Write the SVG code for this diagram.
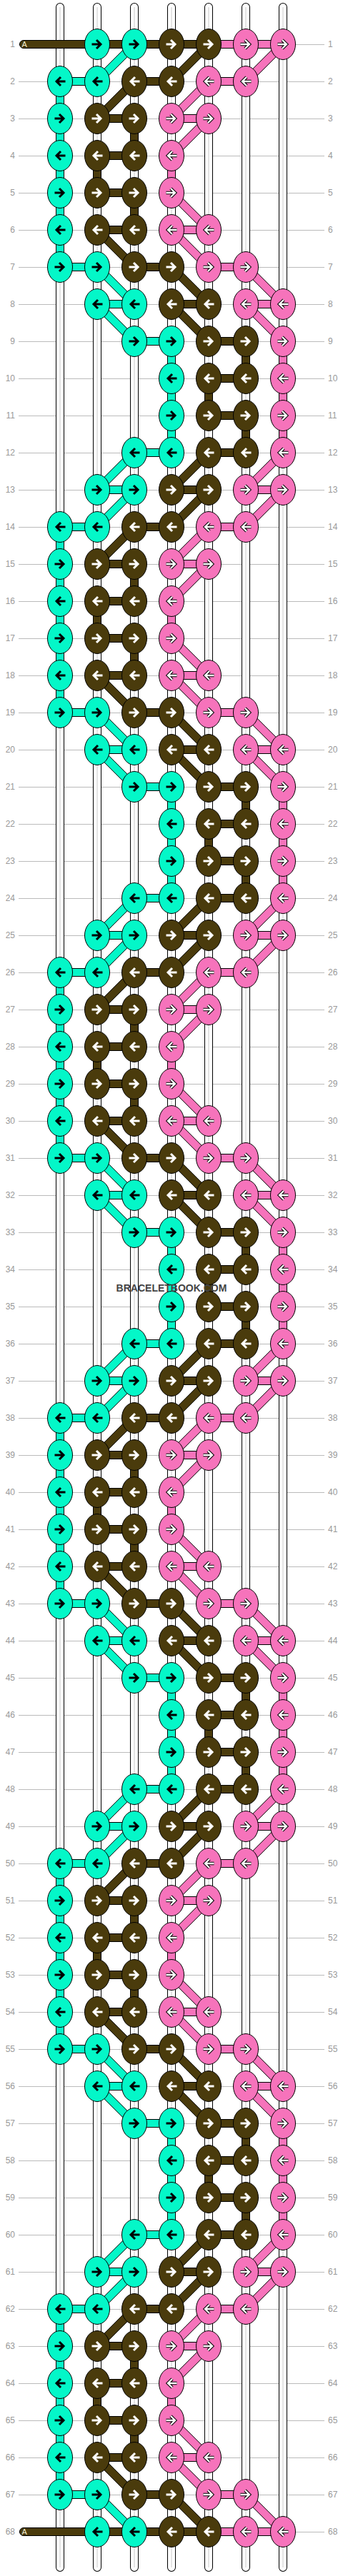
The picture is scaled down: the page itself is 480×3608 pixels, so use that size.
<svg xmlns="http://www.w3.org/2000/svg" xmlns:xlink="http://www.w3.org/1999/xlink" width="480" height="3608" viewBox="0 0 480 3608">
<style>
.t{fill:#04F7C8;stroke:#000;stroke-width:1}
.b{fill:#4A3B0C;stroke:#000;stroke-width:1}
.p{fill:#F673BB;stroke:#000;stroke-width:1}
.lb{font-family:"Liberation Sans",Arial,sans-serif;font-size:12px;fill:#999}
</style>
<defs>
<path id="aR" fill="none" d="M-7.5 0H5M-1-6 5 0-1 6"/>
<path id="aL" fill="none" d="M7.5 0H-5M1-6-5 0 1 6"/>
<g id="tR"><ellipse class="t" rx="17.5" ry="21.5"/><use href="#aR" stroke="#000" stroke-width="3"/></g>
<g id="tL"><ellipse class="t" rx="17.5" ry="21.5"/><use href="#aL" stroke="#000" stroke-width="3"/></g>
<g id="bR"><ellipse class="b" rx="17.5" ry="21.5"/><use href="#aR" stroke="#fff" stroke-width="3"/></g>
<g id="bL"><ellipse class="b" rx="17.5" ry="21.5"/><use href="#aL" stroke="#fff" stroke-width="3"/></g>
<g id="pR"><ellipse class="p" rx="17.5" ry="21.5"/><use href="#aR" stroke="#000" stroke-width="4.4"/><use href="#aR" stroke="#fff" stroke-width="2.4"/></g>
<g id="pL"><ellipse class="p" rx="17.5" ry="21.5"/><use href="#aL" stroke="#000" stroke-width="4.4"/><use href="#aL" stroke="#fff" stroke-width="2.4"/></g>
<g id="R1"><path class="b" d="M292-5.5H33a5.5 5.5 0 0 0 0 11H292z"/><path class="p" d="M292-5.5h104v11h-104z"/><path class="t" d="M184.11-3.89l7.78 7.78-52 52-7.78-7.78z"/><path class="b" d="M288.11-3.89l7.78 7.78-52 52-7.78-7.78z"/><path class="p" d="M392.11-3.89l7.78 7.78-52 52-7.78-7.78z"/></g>
<g id="R2"><path class="t" d="M84-5.5h52v11h-52z"/><path class="t" d="M78.5 0h11v52h-11z"/><path class="b" d="M188-5.5h52v11h-52z"/><path class="b" d="M184.11-3.89l7.78 7.78-52 52-7.78-7.78z"/><path class="p" d="M292-5.5h52v11h-52z"/><path class="p" d="M288.11-3.89l7.78 7.78-52 52-7.78-7.78z"/></g>
<g id="R3"><path class="t" d="M78.5 0h11v52h-11z"/><path class="b" d="M136-5.5h52v11h-52z"/><path class="b" d="M182.5 0h11v52h-11z"/><path class="p" d="M240-5.5h52v11h-52z"/><path class="p" d="M288.11-3.89l7.78 7.78-52 52-7.78-7.78z"/></g>
<g id="R4"><path class="t" d="M78.5 0h11v52h-11z"/><path class="b" d="M136-5.5h52v11h-52z"/><path class="b" d="M130.5 0h11v52h-11z"/><path class="p" d="M234.5 0h11v52h-11z"/></g>
<g id="R5"><path class="t" d="M78.5 0h11v52h-11z"/><path class="b" d="M136-5.5h52v11h-52z"/><path class="b" d="M182.5 0h11v52h-11z"/><path class="p" d="M236.11 3.89l7.78-7.78 52 52-7.78 7.78z"/></g>
<g id="R6"><path class="t" d="M78.5 0h11v52h-11z"/><path class="b" d="M136-5.5h52v11h-52z"/><path class="b" d="M132.11 3.89l7.78-7.78 52 52-7.78 7.78z"/><path class="p" d="M240-5.5h52v11h-52z"/><path class="p" d="M236.11 3.89l7.78-7.78 52 52-7.78 7.78z"/></g>
<g id="R7"><path class="t" d="M84-5.5h52v11h-52z"/><path class="t" d="M132.11 3.89l7.78-7.78 52 52-7.78 7.78z"/><path class="b" d="M188-5.5h52v11h-52z"/><path class="b" d="M236.11 3.89l7.78-7.78 52 52-7.78 7.78z"/><path class="p" d="M292-5.5h52v11h-52z"/><path class="p" d="M340.11 3.89l7.78-7.78 52 52-7.78 7.78z"/></g>
<g id="R8"><path class="t" d="M136-5.5h52v11h-52z"/><path class="t" d="M132.11 3.89l7.78-7.78 52 52-7.78 7.78z"/><path class="b" d="M240-5.5h52v11h-52z"/><path class="b" d="M236.11 3.89l7.78-7.78 52 52-7.78 7.78z"/><path class="p" d="M344-5.5h52v11h-52z"/><path class="p" d="M340.11 3.89l7.78-7.78 52 52-7.78 7.78z"/></g>
<g id="R9"><path class="t" d="M188-5.5h52v11h-52z"/><path class="t" d="M234.5 0h11v52h-11z"/><path class="b" d="M292-5.5h52v11h-52z"/><path class="b" d="M338.5 0h11v52h-11z"/><path class="p" d="M390.5 0h11v52h-11z"/></g>
<g id="R10"><path class="t" d="M234.5 0h11v52h-11z"/><path class="b" d="M292-5.5h52v11h-52z"/><path class="b" d="M286.5 0h11v52h-11z"/><path class="p" d="M390.5 0h11v52h-11z"/></g>
<g id="R11"><path class="t" d="M234.5 0h11v52h-11z"/><path class="b" d="M292-5.5h52v11h-52z"/><path class="b" d="M338.5 0h11v52h-11z"/><path class="p" d="M390.5 0h11v52h-11z"/></g>
<g id="R12"><path class="t" d="M188-5.5h52v11h-52z"/><path class="t" d="M184.11-3.89l7.78 7.78-52 52-7.78-7.78z"/><path class="b" d="M292-5.5h52v11h-52z"/><path class="b" d="M288.11-3.89l7.78 7.78-52 52-7.78-7.78z"/><path class="p" d="M392.11-3.89l7.78 7.78-52 52-7.78-7.78z"/></g>
<g id="R13"><path class="t" d="M136-5.5h52v11h-52z"/><path class="t" d="M184.11-3.89l7.78 7.78-52 52-7.78-7.78z"/><path class="b" d="M240-5.5h52v11h-52z"/><path class="b" d="M288.11-3.89l7.78 7.78-52 52-7.78-7.78z"/><path class="p" d="M344-5.5h52v11h-52z"/><path class="p" d="M392.11-3.89l7.78 7.78-52 52-7.78-7.78z"/></g>
<g id="R68"><path class="b" d="M292-5.5H33a5.5 5.5 0 0 0 0 11H292z"/><path class="p" d="M292-5.5h104v11h-104z"/></g>
</defs>
<rect width="480" height="3608" fill="#fff"/>
<g id="grid" stroke="#bbb" stroke-width="1" fill="none" shape-rendering="crispEdges">
<path d="M26 62H454M26 114H454M26 166H454M26 218H454M26 270H454M26 322H454M26 374H454M26 426H454M26 478H454M26 530H454M26 582H454M26 634H454M26 686H454M26 738H454M26 790H454M26 842H454M26 894H454M26 946H454M26 998H454M26 1050H454M26 1102H454M26 1154H454M26 1206H454M26 1258H454M26 1310H454M26 1362H454M26 1414H454M26 1466H454M26 1518H454M26 1570H454M26 1622H454M26 1674H454M26 1726H454M26 1778H454M26 1830H454M26 1882H454M26 1934H454M26 1986H454M26 2038H454M26 2090H454M26 2142H454M26 2194H454M26 2246H454M26 2298H454M26 2350H454M26 2402H454M26 2454H454M26 2506H454M26 2558H454M26 2610H454M26 2662H454M26 2714H454M26 2766H454M26 2818H454M26 2870H454M26 2922H454M26 2974H454M26 3026H454M26 3078H454M26 3130H454M26 3182H454M26 3234H454M26 3286H454M26 3338H454M26 3390H454M26 3442H454M26 3494H454M26 3546H454"/>
</g>
<g id="strings" fill="none">
<path d="M84 10V3596M136 10V3596M188 10V3596M240 10V3596M292 10V3596M344 10V3596M396 10V3596" stroke="#000" stroke-width="12" stroke-linecap="round"/>
<path d="M84 10V3596M136 10V3596M188 10V3596M240 10V3596M292 10V3596M344 10V3596M396 10V3596" stroke="#fff" stroke-width="10" stroke-linecap="round"/>
<path d="M84 10V3596M136 10V3596M188 10V3596M240 10V3596M292 10V3596M344 10V3596M396 10V3596" stroke="#c8c8c8" stroke-width="1"/>
</g>
<g id="connectors">
<use href="#R1" y="62"/>
<use href="#R2" y="114"/><use href="#R3" y="166"/><use href="#R4" y="218"/><use href="#R5" y="270"/><use href="#R6" y="322"/><use href="#R7" y="374"/><use href="#R8" y="426"/><use href="#R9" y="478"/><use href="#R10" y="530"/><use href="#R11" y="582"/><use href="#R12" y="634"/><use href="#R13" y="686"/>
<use href="#R2" y="738"/><use href="#R3" y="790"/><use href="#R4" y="842"/><use href="#R5" y="894"/><use href="#R6" y="946"/><use href="#R7" y="998"/><use href="#R8" y="1050"/><use href="#R9" y="1102"/><use href="#R10" y="1154"/><use href="#R11" y="1206"/><use href="#R12" y="1258"/><use href="#R13" y="1310"/>
<use href="#R2" y="1362"/><use href="#R3" y="1414"/><use href="#R4" y="1466"/><use href="#R5" y="1518"/><use href="#R6" y="1570"/><use href="#R7" y="1622"/><use href="#R8" y="1674"/><use href="#R9" y="1726"/><use href="#R10" y="1778"/><use href="#R11" y="1830"/><use href="#R12" y="1882"/><use href="#R13" y="1934"/>
<use href="#R2" y="1986"/><use href="#R3" y="2038"/><use href="#R4" y="2090"/><use href="#R5" y="2142"/><use href="#R6" y="2194"/><use href="#R7" y="2246"/><use href="#R8" y="2298"/><use href="#R9" y="2350"/><use href="#R10" y="2402"/><use href="#R11" y="2454"/><use href="#R12" y="2506"/><use href="#R13" y="2558"/>
<use href="#R2" y="2610"/><use href="#R3" y="2662"/><use href="#R4" y="2714"/><use href="#R5" y="2766"/><use href="#R6" y="2818"/><use href="#R7" y="2870"/><use href="#R8" y="2922"/><use href="#R9" y="2974"/><use href="#R10" y="3026"/><use href="#R11" y="3078"/><use href="#R12" y="3130"/><use href="#R13" y="3182"/>
<use href="#R2" y="3234"/><use href="#R3" y="3286"/><use href="#R4" y="3338"/><use href="#R5" y="3390"/><use href="#R6" y="3442"/><use href="#R7" y="3494"/>
<use href="#R68" y="3546"/>
</g>
<g id="knots">
<g id="row1" transform="translate(0 62)"><use id="n1-2" href="#tR" x="136"/><use id="n1-3" href="#tR" x="188"/><use id="n1-4" href="#bR" x="240"/><use id="n1-5" href="#bR" x="292"/><use id="n1-6" href="#pR" x="344"/><use id="n1-7" href="#pR" x="396"/></g>
<g id="row2" transform="translate(0 114)"><use id="n2-1" href="#tL" x="84"/><use id="n2-2" href="#tL" x="136"/><use id="n2-3" href="#bL" x="188"/><use id="n2-4" href="#bL" x="240"/><use id="n2-5" href="#pL" x="292"/><use id="n2-6" href="#pL" x="344"/></g>
<g id="row3" transform="translate(0 166)"><use id="n3-1" href="#tR" x="84"/><use id="n3-2" href="#bR" x="136"/><use id="n3-3" href="#bR" x="188"/><use id="n3-4" href="#pR" x="240"/><use id="n3-5" href="#pR" x="292"/></g>
<g id="row4" transform="translate(0 218)"><use id="n4-1" href="#tL" x="84"/><use id="n4-2" href="#bL" x="136"/><use id="n4-3" href="#bL" x="188"/><use id="n4-4" href="#pL" x="240"/></g>
<g id="row5" transform="translate(0 270)"><use id="n5-1" href="#tR" x="84"/><use id="n5-2" href="#bR" x="136"/><use id="n5-3" href="#bR" x="188"/><use id="n5-4" href="#pR" x="240"/></g>
<g id="row6" transform="translate(0 322)"><use id="n6-1" href="#tL" x="84"/><use id="n6-2" href="#bL" x="136"/><use id="n6-3" href="#bL" x="188"/><use id="n6-4" href="#pL" x="240"/><use id="n6-5" href="#pL" x="292"/></g>
<g id="row7" transform="translate(0 374)"><use id="n7-1" href="#tR" x="84"/><use id="n7-2" href="#tR" x="136"/><use id="n7-3" href="#bR" x="188"/><use id="n7-4" href="#bR" x="240"/><use id="n7-5" href="#pR" x="292"/><use id="n7-6" href="#pR" x="344"/></g>
<g id="row8" transform="translate(0 426)"><use id="n8-2" href="#tL" x="136"/><use id="n8-3" href="#tL" x="188"/><use id="n8-4" href="#bL" x="240"/><use id="n8-5" href="#bL" x="292"/><use id="n8-6" href="#pL" x="344"/><use id="n8-7" href="#pL" x="396"/></g>
<g id="row9" transform="translate(0 478)"><use id="n9-3" href="#tR" x="188"/><use id="n9-4" href="#tR" x="240"/><use id="n9-5" href="#bR" x="292"/><use id="n9-6" href="#bR" x="344"/><use id="n9-7" href="#pR" x="396"/></g>
<g id="row10" transform="translate(0 530)"><use id="n10-4" href="#tL" x="240"/><use id="n10-5" href="#bL" x="292"/><use id="n10-6" href="#bL" x="344"/><use id="n10-7" href="#pL" x="396"/></g>
<g id="row11" transform="translate(0 582)"><use id="n11-4" href="#tR" x="240"/><use id="n11-5" href="#bR" x="292"/><use id="n11-6" href="#bR" x="344"/><use id="n11-7" href="#pR" x="396"/></g>
<g id="row12" transform="translate(0 634)"><use id="n12-3" href="#tL" x="188"/><use id="n12-4" href="#tL" x="240"/><use id="n12-5" href="#bL" x="292"/><use id="n12-6" href="#bL" x="344"/><use id="n12-7" href="#pL" x="396"/></g>
<g id="row13" transform="translate(0 686)"><use id="n13-2" href="#tR" x="136"/><use id="n13-3" href="#tR" x="188"/><use id="n13-4" href="#bR" x="240"/><use id="n13-5" href="#bR" x="292"/><use id="n13-6" href="#pR" x="344"/><use id="n13-7" href="#pR" x="396"/></g>
<g id="row14" transform="translate(0 738)"><use id="n14-1" href="#tL" x="84"/><use id="n14-2" href="#tL" x="136"/><use id="n14-3" href="#bL" x="188"/><use id="n14-4" href="#bL" x="240"/><use id="n14-5" href="#pL" x="292"/><use id="n14-6" href="#pL" x="344"/></g>
<g id="row15" transform="translate(0 790)"><use id="n15-1" href="#tR" x="84"/><use id="n15-2" href="#bR" x="136"/><use id="n15-3" href="#bR" x="188"/><use id="n15-4" href="#pR" x="240"/><use id="n15-5" href="#pR" x="292"/></g>
<g id="row16" transform="translate(0 842)"><use id="n16-1" href="#tL" x="84"/><use id="n16-2" href="#bL" x="136"/><use id="n16-3" href="#bL" x="188"/><use id="n16-4" href="#pL" x="240"/></g>
<g id="row17" transform="translate(0 894)"><use id="n17-1" href="#tR" x="84"/><use id="n17-2" href="#bR" x="136"/><use id="n17-3" href="#bR" x="188"/><use id="n17-4" href="#pR" x="240"/></g>
<g id="row18" transform="translate(0 946)"><use id="n18-1" href="#tL" x="84"/><use id="n18-2" href="#bL" x="136"/><use id="n18-3" href="#bL" x="188"/><use id="n18-4" href="#pL" x="240"/><use id="n18-5" href="#pL" x="292"/></g>
<g id="row19" transform="translate(0 998)"><use id="n19-1" href="#tR" x="84"/><use id="n19-2" href="#tR" x="136"/><use id="n19-3" href="#bR" x="188"/><use id="n19-4" href="#bR" x="240"/><use id="n19-5" href="#pR" x="292"/><use id="n19-6" href="#pR" x="344"/></g>
<g id="row20" transform="translate(0 1050)"><use id="n20-2" href="#tL" x="136"/><use id="n20-3" href="#tL" x="188"/><use id="n20-4" href="#bL" x="240"/><use id="n20-5" href="#bL" x="292"/><use id="n20-6" href="#pL" x="344"/><use id="n20-7" href="#pL" x="396"/></g>
<g id="row21" transform="translate(0 1102)"><use id="n21-3" href="#tR" x="188"/><use id="n21-4" href="#tR" x="240"/><use id="n21-5" href="#bR" x="292"/><use id="n21-6" href="#bR" x="344"/><use id="n21-7" href="#pR" x="396"/></g>
<g id="row22" transform="translate(0 1154)"><use id="n22-4" href="#tL" x="240"/><use id="n22-5" href="#bL" x="292"/><use id="n22-6" href="#bL" x="344"/><use id="n22-7" href="#pL" x="396"/></g>
<g id="row23" transform="translate(0 1206)"><use id="n23-4" href="#tR" x="240"/><use id="n23-5" href="#bR" x="292"/><use id="n23-6" href="#bR" x="344"/><use id="n23-7" href="#pR" x="396"/></g>
<g id="row24" transform="translate(0 1258)"><use id="n24-3" href="#tL" x="188"/><use id="n24-4" href="#tL" x="240"/><use id="n24-5" href="#bL" x="292"/><use id="n24-6" href="#bL" x="344"/><use id="n24-7" href="#pL" x="396"/></g>
<g id="row25" transform="translate(0 1310)"><use id="n25-2" href="#tR" x="136"/><use id="n25-3" href="#tR" x="188"/><use id="n25-4" href="#bR" x="240"/><use id="n25-5" href="#bR" x="292"/><use id="n25-6" href="#pR" x="344"/><use id="n25-7" href="#pR" x="396"/></g>
<g id="row26" transform="translate(0 1362)"><use id="n26-1" href="#tL" x="84"/><use id="n26-2" href="#tL" x="136"/><use id="n26-3" href="#bL" x="188"/><use id="n26-4" href="#bL" x="240"/><use id="n26-5" href="#pL" x="292"/><use id="n26-6" href="#pL" x="344"/></g>
<g id="row27" transform="translate(0 1414)"><use id="n27-1" href="#tR" x="84"/><use id="n27-2" href="#bR" x="136"/><use id="n27-3" href="#bR" x="188"/><use id="n27-4" href="#pR" x="240"/><use id="n27-5" href="#pR" x="292"/></g>
<g id="row28" transform="translate(0 1466)"><use id="n28-1" href="#tL" x="84"/><use id="n28-2" href="#bL" x="136"/><use id="n28-3" href="#bL" x="188"/><use id="n28-4" href="#pL" x="240"/></g>
<g id="row29" transform="translate(0 1518)"><use id="n29-1" href="#tR" x="84"/><use id="n29-2" href="#bR" x="136"/><use id="n29-3" href="#bR" x="188"/><use id="n29-4" href="#pR" x="240"/></g>
<g id="row30" transform="translate(0 1570)"><use id="n30-1" href="#tL" x="84"/><use id="n30-2" href="#bL" x="136"/><use id="n30-3" href="#bL" x="188"/><use id="n30-4" href="#pL" x="240"/><use id="n30-5" href="#pL" x="292"/></g>
<g id="row31" transform="translate(0 1622)"><use id="n31-1" href="#tR" x="84"/><use id="n31-2" href="#tR" x="136"/><use id="n31-3" href="#bR" x="188"/><use id="n31-4" href="#bR" x="240"/><use id="n31-5" href="#pR" x="292"/><use id="n31-6" href="#pR" x="344"/></g>
<g id="row32" transform="translate(0 1674)"><use id="n32-2" href="#tL" x="136"/><use id="n32-3" href="#tL" x="188"/><use id="n32-4" href="#bL" x="240"/><use id="n32-5" href="#bL" x="292"/><use id="n32-6" href="#pL" x="344"/><use id="n32-7" href="#pL" x="396"/></g>
<g id="row33" transform="translate(0 1726)"><use id="n33-3" href="#tR" x="188"/><use id="n33-4" href="#tR" x="240"/><use id="n33-5" href="#bR" x="292"/><use id="n33-6" href="#bR" x="344"/><use id="n33-7" href="#pR" x="396"/></g>
<g id="row34" transform="translate(0 1778)"><use id="n34-4" href="#tL" x="240"/><use id="n34-5" href="#bL" x="292"/><use id="n34-6" href="#bL" x="344"/><use id="n34-7" href="#pL" x="396"/></g>
<g id="row35" transform="translate(0 1830)"><use id="n35-4" href="#tR" x="240"/><use id="n35-5" href="#bR" x="292"/><use id="n35-6" href="#bR" x="344"/><use id="n35-7" href="#pR" x="396"/></g>
<g id="row36" transform="translate(0 1882)"><use id="n36-3" href="#tL" x="188"/><use id="n36-4" href="#tL" x="240"/><use id="n36-5" href="#bL" x="292"/><use id="n36-6" href="#bL" x="344"/><use id="n36-7" href="#pL" x="396"/></g>
<g id="row37" transform="translate(0 1934)"><use id="n37-2" href="#tR" x="136"/><use id="n37-3" href="#tR" x="188"/><use id="n37-4" href="#bR" x="240"/><use id="n37-5" href="#bR" x="292"/><use id="n37-6" href="#pR" x="344"/><use id="n37-7" href="#pR" x="396"/></g>
<g id="row38" transform="translate(0 1986)"><use id="n38-1" href="#tL" x="84"/><use id="n38-2" href="#tL" x="136"/><use id="n38-3" href="#bL" x="188"/><use id="n38-4" href="#bL" x="240"/><use id="n38-5" href="#pL" x="292"/><use id="n38-6" href="#pL" x="344"/></g>
<g id="row39" transform="translate(0 2038)"><use id="n39-1" href="#tR" x="84"/><use id="n39-2" href="#bR" x="136"/><use id="n39-3" href="#bR" x="188"/><use id="n39-4" href="#pR" x="240"/><use id="n39-5" href="#pR" x="292"/></g>
<g id="row40" transform="translate(0 2090)"><use id="n40-1" href="#tL" x="84"/><use id="n40-2" href="#bL" x="136"/><use id="n40-3" href="#bL" x="188"/><use id="n40-4" href="#pL" x="240"/></g>
<g id="row41" transform="translate(0 2142)"><use id="n41-1" href="#tR" x="84"/><use id="n41-2" href="#bR" x="136"/><use id="n41-3" href="#bR" x="188"/><use id="n41-4" href="#pR" x="240"/></g>
<g id="row42" transform="translate(0 2194)"><use id="n42-1" href="#tL" x="84"/><use id="n42-2" href="#bL" x="136"/><use id="n42-3" href="#bL" x="188"/><use id="n42-4" href="#pL" x="240"/><use id="n42-5" href="#pL" x="292"/></g>
<g id="row43" transform="translate(0 2246)"><use id="n43-1" href="#tR" x="84"/><use id="n43-2" href="#tR" x="136"/><use id="n43-3" href="#bR" x="188"/><use id="n43-4" href="#bR" x="240"/><use id="n43-5" href="#pR" x="292"/><use id="n43-6" href="#pR" x="344"/></g>
<g id="row44" transform="translate(0 2298)"><use id="n44-2" href="#tL" x="136"/><use id="n44-3" href="#tL" x="188"/><use id="n44-4" href="#bL" x="240"/><use id="n44-5" href="#bL" x="292"/><use id="n44-6" href="#pL" x="344"/><use id="n44-7" href="#pL" x="396"/></g>
<g id="row45" transform="translate(0 2350)"><use id="n45-3" href="#tR" x="188"/><use id="n45-4" href="#tR" x="240"/><use id="n45-5" href="#bR" x="292"/><use id="n45-6" href="#bR" x="344"/><use id="n45-7" href="#pR" x="396"/></g>
<g id="row46" transform="translate(0 2402)"><use id="n46-4" href="#tL" x="240"/><use id="n46-5" href="#bL" x="292"/><use id="n46-6" href="#bL" x="344"/><use id="n46-7" href="#pL" x="396"/></g>
<g id="row47" transform="translate(0 2454)"><use id="n47-4" href="#tR" x="240"/><use id="n47-5" href="#bR" x="292"/><use id="n47-6" href="#bR" x="344"/><use id="n47-7" href="#pR" x="396"/></g>
<g id="row48" transform="translate(0 2506)"><use id="n48-3" href="#tL" x="188"/><use id="n48-4" href="#tL" x="240"/><use id="n48-5" href="#bL" x="292"/><use id="n48-6" href="#bL" x="344"/><use id="n48-7" href="#pL" x="396"/></g>
<g id="row49" transform="translate(0 2558)"><use id="n49-2" href="#tR" x="136"/><use id="n49-3" href="#tR" x="188"/><use id="n49-4" href="#bR" x="240"/><use id="n49-5" href="#bR" x="292"/><use id="n49-6" href="#pR" x="344"/><use id="n49-7" href="#pR" x="396"/></g>
<g id="row50" transform="translate(0 2610)"><use id="n50-1" href="#tL" x="84"/><use id="n50-2" href="#tL" x="136"/><use id="n50-3" href="#bL" x="188"/><use id="n50-4" href="#bL" x="240"/><use id="n50-5" href="#pL" x="292"/><use id="n50-6" href="#pL" x="344"/></g>
<g id="row51" transform="translate(0 2662)"><use id="n51-1" href="#tR" x="84"/><use id="n51-2" href="#bR" x="136"/><use id="n51-3" href="#bR" x="188"/><use id="n51-4" href="#pR" x="240"/><use id="n51-5" href="#pR" x="292"/></g>
<g id="row52" transform="translate(0 2714)"><use id="n52-1" href="#tL" x="84"/><use id="n52-2" href="#bL" x="136"/><use id="n52-3" href="#bL" x="188"/><use id="n52-4" href="#pL" x="240"/></g>
<g id="row53" transform="translate(0 2766)"><use id="n53-1" href="#tR" x="84"/><use id="n53-2" href="#bR" x="136"/><use id="n53-3" href="#bR" x="188"/><use id="n53-4" href="#pR" x="240"/></g>
<g id="row54" transform="translate(0 2818)"><use id="n54-1" href="#tL" x="84"/><use id="n54-2" href="#bL" x="136"/><use id="n54-3" href="#bL" x="188"/><use id="n54-4" href="#pL" x="240"/><use id="n54-5" href="#pL" x="292"/></g>
<g id="row55" transform="translate(0 2870)"><use id="n55-1" href="#tR" x="84"/><use id="n55-2" href="#tR" x="136"/><use id="n55-3" href="#bR" x="188"/><use id="n55-4" href="#bR" x="240"/><use id="n55-5" href="#pR" x="292"/><use id="n55-6" href="#pR" x="344"/></g>
<g id="row56" transform="translate(0 2922)"><use id="n56-2" href="#tL" x="136"/><use id="n56-3" href="#tL" x="188"/><use id="n56-4" href="#bL" x="240"/><use id="n56-5" href="#bL" x="292"/><use id="n56-6" href="#pL" x="344"/><use id="n56-7" href="#pL" x="396"/></g>
<g id="row57" transform="translate(0 2974)"><use id="n57-3" href="#tR" x="188"/><use id="n57-4" href="#tR" x="240"/><use id="n57-5" href="#bR" x="292"/><use id="n57-6" href="#bR" x="344"/><use id="n57-7" href="#pR" x="396"/></g>
<g id="row58" transform="translate(0 3026)"><use id="n58-4" href="#tL" x="240"/><use id="n58-5" href="#bL" x="292"/><use id="n58-6" href="#bL" x="344"/><use id="n58-7" href="#pL" x="396"/></g>
<g id="row59" transform="translate(0 3078)"><use id="n59-4" href="#tR" x="240"/><use id="n59-5" href="#bR" x="292"/><use id="n59-6" href="#bR" x="344"/><use id="n59-7" href="#pR" x="396"/></g>
<g id="row60" transform="translate(0 3130)"><use id="n60-3" href="#tL" x="188"/><use id="n60-4" href="#tL" x="240"/><use id="n60-5" href="#bL" x="292"/><use id="n60-6" href="#bL" x="344"/><use id="n60-7" href="#pL" x="396"/></g>
<g id="row61" transform="translate(0 3182)"><use id="n61-2" href="#tR" x="136"/><use id="n61-3" href="#tR" x="188"/><use id="n61-4" href="#bR" x="240"/><use id="n61-5" href="#bR" x="292"/><use id="n61-6" href="#pR" x="344"/><use id="n61-7" href="#pR" x="396"/></g>
<g id="row62" transform="translate(0 3234)"><use id="n62-1" href="#tL" x="84"/><use id="n62-2" href="#tL" x="136"/><use id="n62-3" href="#bL" x="188"/><use id="n62-4" href="#bL" x="240"/><use id="n62-5" href="#pL" x="292"/><use id="n62-6" href="#pL" x="344"/></g>
<g id="row63" transform="translate(0 3286)"><use id="n63-1" href="#tR" x="84"/><use id="n63-2" href="#bR" x="136"/><use id="n63-3" href="#bR" x="188"/><use id="n63-4" href="#pR" x="240"/><use id="n63-5" href="#pR" x="292"/></g>
<g id="row64" transform="translate(0 3338)"><use id="n64-1" href="#tL" x="84"/><use id="n64-2" href="#bL" x="136"/><use id="n64-3" href="#bL" x="188"/><use id="n64-4" href="#pL" x="240"/></g>
<g id="row65" transform="translate(0 3390)"><use id="n65-1" href="#tR" x="84"/><use id="n65-2" href="#bR" x="136"/><use id="n65-3" href="#bR" x="188"/><use id="n65-4" href="#pR" x="240"/></g>
<g id="row66" transform="translate(0 3442)"><use id="n66-1" href="#tL" x="84"/><use id="n66-2" href="#bL" x="136"/><use id="n66-3" href="#bL" x="188"/><use id="n66-4" href="#pL" x="240"/><use id="n66-5" href="#pL" x="292"/></g>
<g id="row67" transform="translate(0 3494)"><use id="n67-1" href="#tR" x="84"/><use id="n67-2" href="#tR" x="136"/><use id="n67-3" href="#bR" x="188"/><use id="n67-4" href="#bR" x="240"/><use id="n67-5" href="#pR" x="292"/><use id="n67-6" href="#pR" x="344"/></g>
<g id="row68" transform="translate(0 3546)"><use id="n68-2" href="#tL" x="136"/><use id="n68-3" href="#tL" x="188"/><use id="n68-4" href="#bL" x="240"/><use id="n68-5" href="#bL" x="292"/><use id="n68-6" href="#pL" x="344"/><use id="n68-7" href="#pL" x="396"/></g>
</g>
<g id="strand-labels" font-family="Liberation Sans, Arial, sans-serif" font-size="11" fill="#f3ecd2">
<text x="30.5" y="66">A</text>
<text x="30.5" y="3550">A</text>
</g>
<g id="labels-left" class="lb" text-anchor="end">
<text x="21" y="66">1</text><text x="21" y="118">2</text><text x="21" y="170">3</text><text x="21" y="222">4</text><text x="21" y="274">5</text><text x="21" y="326">6</text><text x="21" y="378">7</text><text x="21" y="430">8</text><text x="21" y="482">9</text><text x="21" y="534">10</text><text x="21" y="586">11</text><text x="21" y="638">12</text><text x="21" y="690">13</text><text x="21" y="742">14</text><text x="21" y="794">15</text><text x="21" y="846">16</text><text x="21" y="898">17</text><text x="21" y="950">18</text><text x="21" y="1002">19</text><text x="21" y="1054">20</text><text x="21" y="1106">21</text><text x="21" y="1158">22</text><text x="21" y="1210">23</text><text x="21" y="1262">24</text><text x="21" y="1314">25</text><text x="21" y="1366">26</text><text x="21" y="1418">27</text><text x="21" y="1470">28</text><text x="21" y="1522">29</text><text x="21" y="1574">30</text><text x="21" y="1626">31</text><text x="21" y="1678">32</text><text x="21" y="1730">33</text><text x="21" y="1782">34</text><text x="21" y="1834">35</text><text x="21" y="1886">36</text><text x="21" y="1938">37</text><text x="21" y="1990">38</text><text x="21" y="2042">39</text><text x="21" y="2094">40</text><text x="21" y="2146">41</text><text x="21" y="2198">42</text><text x="21" y="2250">43</text><text x="21" y="2302">44</text><text x="21" y="2354">45</text><text x="21" y="2406">46</text><text x="21" y="2458">47</text><text x="21" y="2510">48</text><text x="21" y="2562">49</text><text x="21" y="2614">50</text><text x="21" y="2666">51</text><text x="21" y="2718">52</text><text x="21" y="2770">53</text><text x="21" y="2822">54</text><text x="21" y="2874">55</text><text x="21" y="2926">56</text><text x="21" y="2978">57</text><text x="21" y="3030">58</text><text x="21" y="3082">59</text><text x="21" y="3134">60</text><text x="21" y="3186">61</text><text x="21" y="3238">62</text><text x="21" y="3290">63</text><text x="21" y="3342">64</text><text x="21" y="3394">65</text><text x="21" y="3446">66</text><text x="21" y="3498">67</text><text x="21" y="3550">68</text>
</g>
<g id="labels-right" class="lb">
<text x="459" y="66">1</text><text x="459" y="118">2</text><text x="459" y="170">3</text><text x="459" y="222">4</text><text x="459" y="274">5</text><text x="459" y="326">6</text><text x="459" y="378">7</text><text x="459" y="430">8</text><text x="459" y="482">9</text><text x="459" y="534">10</text><text x="459" y="586">11</text><text x="459" y="638">12</text><text x="459" y="690">13</text><text x="459" y="742">14</text><text x="459" y="794">15</text><text x="459" y="846">16</text><text x="459" y="898">17</text><text x="459" y="950">18</text><text x="459" y="1002">19</text><text x="459" y="1054">20</text><text x="459" y="1106">21</text><text x="459" y="1158">22</text><text x="459" y="1210">23</text><text x="459" y="1262">24</text><text x="459" y="1314">25</text><text x="459" y="1366">26</text><text x="459" y="1418">27</text><text x="459" y="1470">28</text><text x="459" y="1522">29</text><text x="459" y="1574">30</text><text x="459" y="1626">31</text><text x="459" y="1678">32</text><text x="459" y="1730">33</text><text x="459" y="1782">34</text><text x="459" y="1834">35</text><text x="459" y="1886">36</text><text x="459" y="1938">37</text><text x="459" y="1990">38</text><text x="459" y="2042">39</text><text x="459" y="2094">40</text><text x="459" y="2146">41</text><text x="459" y="2198">42</text><text x="459" y="2250">43</text><text x="459" y="2302">44</text><text x="459" y="2354">45</text><text x="459" y="2406">46</text><text x="459" y="2458">47</text><text x="459" y="2510">48</text><text x="459" y="2562">49</text><text x="459" y="2614">50</text><text x="459" y="2666">51</text><text x="459" y="2718">52</text><text x="459" y="2770">53</text><text x="459" y="2822">54</text><text x="459" y="2874">55</text><text x="459" y="2926">56</text><text x="459" y="2978">57</text><text x="459" y="3030">58</text><text x="459" y="3082">59</text><text x="459" y="3134">60</text><text x="459" y="3186">61</text><text x="459" y="3238">62</text><text x="459" y="3290">63</text><text x="459" y="3342">64</text><text x="459" y="3394">65</text><text x="459" y="3446">66</text><text x="459" y="3498">67</text><text x="459" y="3550">68</text>
</g>
<text id="watermark" x="240" y="1809" text-anchor="middle" font-family="Liberation Sans, Arial, sans-serif" font-weight="bold" font-size="14" fill="#444">BRACELETBOOK.COM</text>
</svg>
